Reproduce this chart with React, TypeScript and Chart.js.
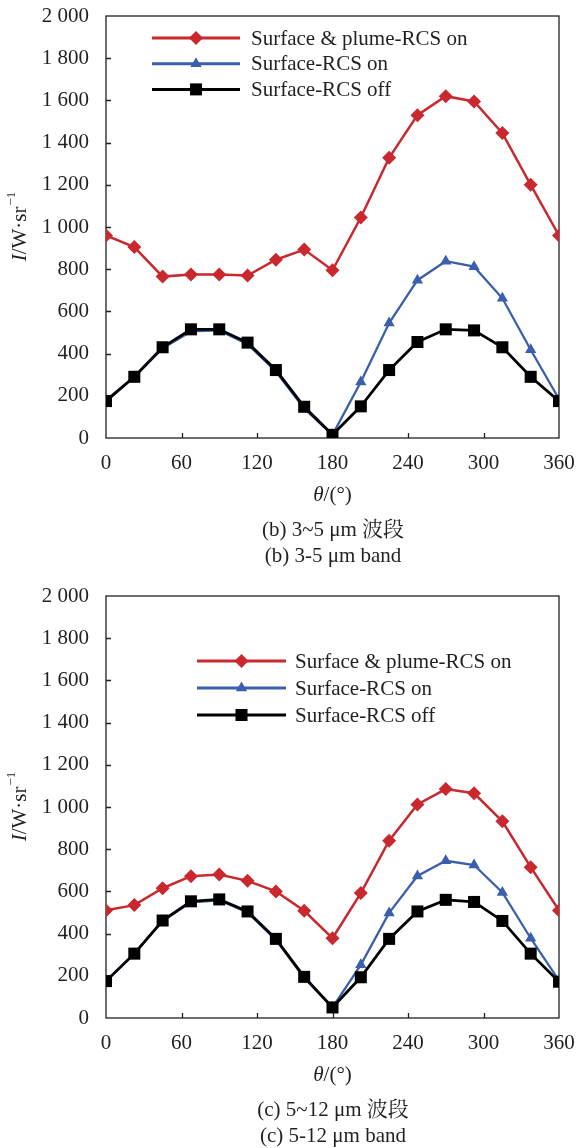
import React, { useEffect, useRef } from "react";
import { Chart, registerables } from "chart.js";
Chart.register(...registerables);

// ---- data ----
const angles = [0, 22.5, 45, 67.5, 90, 112.5, 135, 157.5, 180, 202.5, 225, 247.5, 270, 292.5, 315, 337.5, 360];

// (b) 3~5 μm band
const bPlume = [960, 905, 765, 775, 775, 770, 845, 893, 795, 1045, 1328, 1530, 1620, 1595, 1445, 1200, 960];
const bOn = [180, 290, 425, 505, 510, 445, 315, 140, 15, 265, 545, 748, 838, 812, 662, 418, 185];
const bOff = [175, 290, 430, 515, 515, 452, 322, 148, 15, 150, 322, 455, 515, 510, 430, 290, 175];

// (c) 5~12 μm band
const cPlume = [510, 535, 615, 672, 680, 650, 600, 508, 378, 592, 840, 1012, 1085, 1065, 932, 715, 510];
const cOn = [175, 305, 460, 548, 558, 500, 370, 190, 50, 252, 498, 673, 745, 725, 595, 378, 178];
const cOff = [175, 305, 462, 553, 562, 505, 375, 195, 50, 193, 375, 505, 560, 550, 460, 305, 172];

const seriesLabels = ["Surface & plume-RCS on", "Surface-RCS on", "Surface-RCS off"];
const seriesColors = ["#C8282E", "#3B5FAD", "#000000"];
const seriesStyles = ["rectRot", "triangle", "rect"];
const seriesRadius = [7, 6.5, 8.5];
const seriesWidth = [2.5, 2.3, 2.8];

const xTickValues = [0, 60, 120, 180, 240, 300, 360];
const yMin = 0;
const yMax = 2000;
const yStep = 200;

const captionsB = ["(b) 3~5 μm 波段", "(b) 3-5 μm band"];
const captionsC = ["(c) 5~12 μm 波段", "(c) 5-12 μm band"];

const SERIF = "'Liberation Serif', 'Times New Roman', serif";
const CAP_FONT = "'Liberation Serif', 'Noto Serif CJK SC', 'Noto Sans CJK SC', serif";
const TEXT = "#231F20";

const fmtY = (v: number) =>
  v >= 1000 ? `${Math.floor(v / 1000)} ${String(v % 1000).padStart(3, "0")}` : `${v}`;

function drawMarker(ctx: CanvasRenderingContext2D, style: string, r: number, x: number, y: number) {
  ctx.beginPath();
  if (style === "rectRot") {
    ctx.moveTo(x - r, y);
    ctx.lineTo(x, y - r);
    ctx.lineTo(x + r, y);
    ctx.lineTo(x, y + r);
  } else if (style === "triangle") {
    ctx.moveTo(x, y - r);
    ctx.lineTo(x + 0.866 * r, y + 0.5 * r);
    ctx.lineTo(x - 0.866 * r, y + 0.5 * r);
  } else {
    const s = r * Math.SQRT1_2;
    ctx.rect(x - s, y - s, 2 * s, 2 * s);
  }
  ctx.closePath();
  ctx.fill();
}

type LegendCfg = { x0: number; x1: number; y0: number; dy: number; tx: number };

type PanelProps = {
  height: number;
  plume: number[];
  on: number[];
  off: number[];
  legend: LegendCfg;
  captions: string[];
};

const AREA_LEFT = 106;
const AREA_RIGHT = 559;
const AREA_TOP = 16;
const AREA_BOTTOM = 438;

function Panel({ height, plume, on, off, legend, captions }: PanelProps) {
  const ref = useRef<HTMLCanvasElement | null>(null);
  useEffect(() => {
    if (!ref.current) return;
    const series = [plume, on, off];
    const datasets = series.map((vals, i) => ({
      label: seriesLabels[i],
      data: angles.map((a, k) => ({ x: a, y: vals[k] })),
      borderColor: seriesColors[i],
      backgroundColor: seriesColors[i],
      borderWidth: seriesWidth[i],
      pointStyle: seriesStyles[i] as any,
      pointRadius: seriesRadius[i],
      pointBorderWidth: 0,
      pointBackgroundColor: seriesColors[i],
      tension: 0,
      order: 3 - i,
    }));

    const frame = {
      id: "frame",
      beforeDatasetsDraw(chart: any) {
        const { ctx, chartArea: ca, scales } = chart;
        ctx.save();
        ctx.strokeStyle = TEXT;
        ctx.lineWidth = 1.3;
        ctx.strokeRect(ca.left, ca.top, ca.right - ca.left, ca.bottom - ca.top);
        ctx.beginPath();
        for (const v of xTickValues) {
          if (v === 0 || v === 360) continue;
          const px = Math.round(scales.x.getPixelForValue(v)) + 0.5;
          ctx.moveTo(px, ca.bottom);
          ctx.lineTo(px, ca.bottom - 5);
        }
        for (let v = yMin + yStep; v < yMax; v += yStep) {
          const py = Math.round(scales.y.getPixelForValue(v)) + 0.5;
          ctx.moveTo(ca.left, py);
          ctx.lineTo(ca.left + 5, py);
        }
        ctx.stroke();
        ctx.restore();
      },
      afterDraw(chart: any) {
        const { ctx, chartArea: ca } = chart;
        ctx.save();
        // legend
        for (let i = 0; i < 3; i++) {
          const y = legend.y0 + i * legend.dy;
          ctx.strokeStyle = seriesColors[i];
          ctx.fillStyle = seriesColors[i];
          ctx.lineWidth = 3;
          ctx.beginPath();
          ctx.moveTo(legend.x0, y);
          ctx.lineTo(legend.x1, y);
          ctx.stroke();
          drawMarker(ctx, seriesStyles[i], seriesRadius[i], (legend.x0 + legend.x1) / 2, y);
          ctx.fillStyle = TEXT;
          ctx.font = `21px ${SERIF}`;
          ctx.textAlign = "left";
          ctx.textBaseline = "middle";
          ctx.fillText(seriesLabels[i], legend.tx, y + 1);
        }
        // y title
        ctx.save();
        ctx.translate(20, (ca.top + ca.bottom) / 2);
        ctx.rotate(-Math.PI / 2);
        ctx.fillStyle = TEXT;
        ctx.textBaseline = "middle";
        ctx.textAlign = "left";
        const p1 = "I";
        const p2 = "/W·sr";
        const p3 = "−1";
        ctx.font = `italic 21px ${SERIF}`;
        const w1 = ctx.measureText(p1).width;
        ctx.font = `21px ${SERIF}`;
        const w2 = ctx.measureText(p2).width;
        ctx.font = `13px ${SERIF}`;
        const w3 = ctx.measureText(p3).width;
        let x = -(w1 + w2 + w3) / 2;
        ctx.font = `italic 21px ${SERIF}`;
        ctx.fillText(p1, x, 0);
        x += w1;
        ctx.font = `21px ${SERIF}`;
        ctx.fillText(p2, x, 0);
        x += w2;
        ctx.font = `13px ${SERIF}`;
        ctx.fillText(p3, x + 1, -8);
        ctx.restore();
        // x title
        ctx.fillStyle = TEXT;
        ctx.textBaseline = "middle";
        ctx.textAlign = "left";
        ctx.font = `italic 21px ${SERIF}`;
        const t1 = "θ";
        const wt1 = ctx.measureText(t1).width;
        ctx.font = `21px ${SERIF}`;
        const t2 = "/(°)";
        const wt2 = ctx.measureText(t2).width;
        const cx = (ca.left + ca.right) / 2;
        const ty = ca.bottom + 57;
        ctx.font = `italic 21px ${SERIF}`;
        ctx.fillText(t1, cx - (wt1 + wt2) / 2, ty);
        ctx.font = `21px ${SERIF}`;
        ctx.fillText(t2, cx - (wt1 + wt2) / 2 + wt1, ty);
        // captions
        ctx.textAlign = "center";
        ctx.font = `21px ${CAP_FONT}`;
        ctx.fillText(captions[0], 333, ca.bottom + 92);
        ctx.fillText(captions[1], 333, ca.bottom + 118);
        ctx.restore();
      },
    };

    const chart = new Chart(ref.current, {
      type: "line",
      data: { datasets: datasets as any },
      options: {
        responsive: false,
        animation: false,
        events: [],
        layout: { padding: { top: AREA_TOP, right: 576 - AREA_RIGHT, left: 0, bottom: 0 } },
        plugins: { legend: { display: false }, tooltip: { enabled: false } },
        scales: {
          x: {
            type: "linear",
            min: 0,
            max: 360,
            afterFit: (s: any) => {
              s.height = height - AREA_BOTTOM;
              s.paddingLeft = 0;
              s.paddingRight = 0;
              s.paddingTop = 0;
              s.paddingBottom = 0;
            },
            afterBuildTicks: (s: any) => {
              s.ticks = xTickValues.map((v) => ({ value: v }));
            },
            grid: { display: false, drawTicks: false },
            border: { display: false },
            ticks: {
              color: TEXT,
              padding: 13,
              maxRotation: 0,
              font: { family: SERIF, size: 21 },
            },
          },
          y: {
            type: "linear",
            min: yMin,
            max: yMax,
            afterFit: (s: any) => {
              s.width = AREA_LEFT;
              s.paddingTop = 0;
              s.paddingBottom = 0;
              s.paddingLeft = 0;
              s.paddingRight = 0;
            },
            grid: { display: false, drawTicks: false },
            border: { display: false },
            ticks: {
              stepSize: yStep,
              color: TEXT,
              padding: 17,
              font: { family: SERIF, size: 21 },
              callback: (v: any) => fmtY(Number(v)),
            },
          },
        },
      },
      plugins: [frame],
    });
    return () => chart.destroy();
  }, [height, plume, on, off, legend, captions]);

  return <canvas ref={ref} width={576} height={height} style={{ display: "block", width: 576, height }} />;
}

const legendB: LegendCfg = { x0: 152, x1: 240, y0: 38, dy: 25.7, tx: 251 };
const legendC: LegendCfg = { x0: 197, x1: 286, y0: 81, dy: 27, tx: 295 };

export default function App() {
  return (
    <div style={{ position: "absolute", left: 0, top: 0, width: 576, height: 1148, background: "#fff", overflow: "hidden" }}>
      <Panel height={580} plume={bPlume} on={bOn} off={bOff} legend={legendB} captions={captionsB} />
      <Panel height={568} plume={cPlume} on={cOn} off={cOff} legend={legendC} captions={captionsC} />
    </div>
  );
}
